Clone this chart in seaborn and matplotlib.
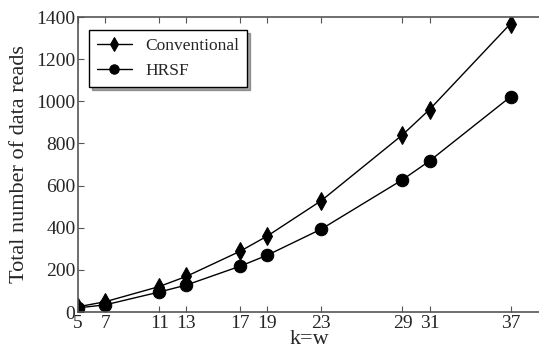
import matplotlib
matplotlib.use("Agg")
import matplotlib.pyplot as plt
import seaborn as sns
import pandas as pd

k_values = [5, 7, 11, 13, 17, 19, 23, 29, 31, 37]
conventional = [25, 49, 121, 169, 289, 361, 529, 841, 961, 1369]
hrsf = [20, 34, 95, 128, 218, 270, 394, 628, 717, 1022]
y_ticks = [0, 200, 400, 600, 800, 1000, 1200, 1400]

sns.set_style("white")
plt.rcParams['font.family'] = ['Liberation Serif', 'DejaVu Serif']

df = pd.DataFrame({
    "k": k_values * 2,
    "reads": conventional + hrsf,
    "method": ["Conventional"] * len(k_values) + ["HRSF"] * len(k_values),
})

fig = plt.figure(figsize=(5.39, 3.55), dpi=100)
ax = fig.add_axes([0.145, 0.121, 0.86, 0.831])

sns.lineplot(data=df, x="k", y="reads", hue="method", style="method",
             markers={"Conventional": "d", "HRSF": "o"}, dashes=False,
             palette={"Conventional": "black", "HRSF": "black"},
             markersize=9, linewidth=1.0, markeredgecolor="black",
             ax=ax)

ax.set_xlim(5, 39.3)
ax.set_ylim(0, 1400)
ax.set_xticks(k_values)
ax.set_xticklabels([str(k) for k in k_values])
ax.set_yticks(y_ticks)
ax.tick_params(axis="both", direction="in", labelsize=14, length=4, color="#555555",
               top=True, bottom=True, left=True, right=False, pad=2)
for s in ["left", "bottom", "top"]:
    ax.spines[s].set_color("#555555")
    ax.spines[s].set_linewidth(1.2)
ax.spines["right"].set_visible(False)

ax.set_xlabel("k=w", fontsize=16, labelpad=-1)
ax.set_ylabel("Total number of data reads", fontsize=16, labelpad=5)

leg = ax.legend(loc="upper left", fontsize=12.5, frameon=True, shadow=True,
                fancybox=False, borderpad=0.45, handlelength=2.0,
                handletextpad=0.8, markerscale=0.75, labelspacing=0.5,
                bbox_to_anchor=(0.005, 0.985))
leg.get_frame().set_edgecolor("black")
leg.get_frame().set_linewidth(1.0)
leg.set_title(None)

fig.savefig("out.png", dpi=100)
